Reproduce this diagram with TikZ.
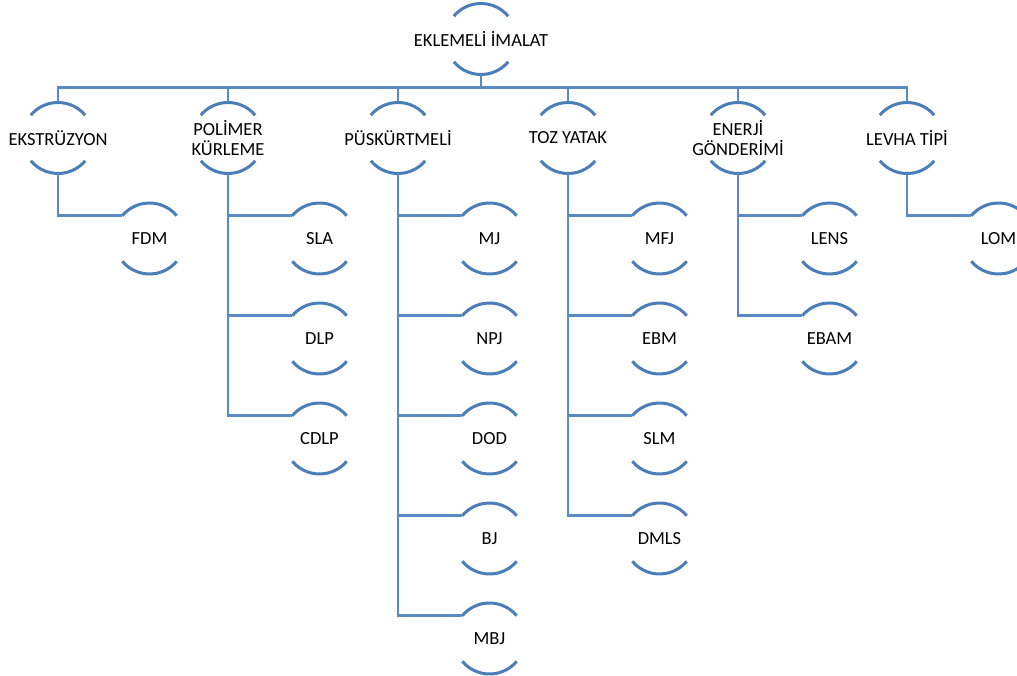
\documentclass[tikz,border=0pt]{standalone}
\usepackage{fontspec}
\setmainfont{Carlito}
\usetikzlibrary{positioning,calc}
\definecolor{arcblue}{RGB}{74,126,187}
\definecolor{lineblue}{RGB}{88,139,198}

\begin{document}
\begin{tikzpicture}[x=1pt,y=1pt,on grid,
  every node/.style={font=\fontsize{18.5}{20.5}\selectfont,align=center,inner sep=0pt},
  arcs/.style={draw=arcblue,line width=3pt},
  link/.style={draw=lineblue,line width=2.7pt}]
\useasboundingbox (0,0) rectangle (1017,675);
% root and first level
\node (ekl) at (481,636) {EKLEMELİ İMALAT};
\node (eks) at (58,537) {EKSTRÜZYON};
\node[right=170pt of eks] (pol) {POLİMER\\KÜRLEME};
\node[right=170pt of pol] (pus) {PÜSKÜRTMELİ};
\node[right=170pt of pus] (toz) {TOZ YATAK};
\node[right=170pt of toz] (ene) {ENERJİ\\GÖNDERİMİ};
\node[right=169pt of ene] (lev) {LEVHA TİPİ};
% second level
\node[below right=100.5pt and 91.5pt of eks] (fdm) {FDM};
\node[below right=100.5pt and 91.5pt of pol] (sla) {SLA};
\node[below=100pt of sla] (dlp) {DLP};
\node[below=100pt of dlp] (cdlp) {CDLP};
\node[below right=100.5pt and 91.5pt of pus] (mj) {MJ};
\node[below=100pt of mj] (npj) {NPJ};
\node[below=100pt of npj] (dod) {DOD};
\node[below=100pt of dod] (bj) {BJ};
\node[below=100pt of bj] (mbj) {MBJ};
\node[below right=100.5pt and 91.5pt of toz] (mfj) {MFJ};
\node[below=100pt of mfj] (ebm) {EBM};
\node[below=100pt of ebm] (slm) {SLM};
\node[below=100pt of slm] (dmls) {DMLS};
\node[below right=100.5pt and 91.5pt of ene] (lens) {LENS};
\node[below=100pt of lens] (ebam) {EBAM};
\node[below right=100.5pt and 91.5pt of lev] (lom) {LOM};
% the two arcs round every label
\foreach \n in {ekl,eks,pol,pus,toz,ene,lev,fdm,sla,dlp,cdlp,mj,npj,dod,bj,mbj,mfj,ebm,slm,dmls,lens,ebam,lom} {
  \coordinate (\n-top) at ($(\n)+(0,35.5)$);
  \coordinate (\n-bot) at ($(\n)+(0,-35.5)$);
  \coordinate (\n-in) at ($(\n)+(140:35.5)$);
  \draw[arcs] (\n.center) ++(40:35.5) arc[start angle=40,end angle=140,radius=35.5]
              (\n.center) ++(220:35.5) arc[start angle=220,end angle=320,radius=35.5];
}
% connectors
\draw[link] (ekl-bot) -- ++(0,-13) coordinate (bus);
\foreach \n in {eks,pol,pus,toz,ene,lev}
  \draw[link] (\n-top) |- (bus);
\foreach \p/\kids in {eks/{fdm},pol/{sla,dlp,cdlp},pus/{mj,npj,dod,bj,mbj},toz/{mfj,ebm,slm,dmls},ene/{lens,ebam},lev/{lom}}
  \foreach \k in \kids
    \draw[link] (\p-bot) |- (\k-in);
\end{tikzpicture}
\end{document}
